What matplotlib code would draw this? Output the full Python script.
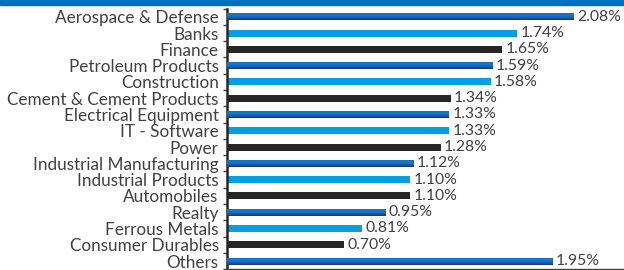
import numpy as np
import matplotlib
matplotlib.use('Agg')
import matplotlib.pyplot as plt
from matplotlib.colors import LinearSegmentedColormap
from matplotlib.patches import Rectangle

sectors = ['Aerospace & Defense', 'Banks', 'Finance', 'Petroleum Products', 'Construction',
           'Cement & Cement Products', 'Electrical Equipment', 'IT - Software', 'Power',
           'Industrial Manufacturing', 'Industrial Products', 'Automobiles', 'Realty',
           'Ferrous Metals', 'Consumer Durables', 'Others']
weights = [2.08, 1.74, 1.65, 1.59, 1.58, 1.34, 1.33, 1.33, 1.28, 1.12, 1.10, 1.10, 0.95, 0.81, 0.70, 1.95]
styles = ['grad', 'light', 'dark'] * 5 + ['grad']

plt.rcParams['font.family'] = ['Lato', 'DejaVu Sans']
txt = '#404040'
light = '#00a0e3'
dark = '#262626'
grad = LinearSegmentedColormap.from_list('g', ['#1d5fae', '#0b80d8', '#1d60b5', '#1f3275'])

fig = plt.figure(figsize=(6.24, 2.70), dpi=100)
fig.patches.append(Rectangle((0, 1 - 5/270), 1, 5/270, transform=fig.transFigure,
                             color='#0070c0', zorder=0))
ax = fig.add_axes([227/624, 0.003, 397/624, 0.965])

y = np.arange(len(sectors))
h = 0.43
for i, (v, s) in enumerate(zip(weights, styles)):
    if s == 'grad':
        bar = ax.barh(i, v, height=h, color='#0b80d8', zorder=2)[0]
        img = ax.imshow(np.linspace(0, 1, 50).reshape(-1, 1), cmap=grad, aspect='auto',
                        extent=(0, v, i + h/2, i - h/2), zorder=3)
        img.set_clip_path(bar)
    else:
        ax.barh(i, v, height=h, color=light if s == 'light' else dark, zorder=2)
    ax.text(v + 0.02, i, '{:.2f}%'.format(v), va='center', ha='left',
            fontsize=11.3, color=txt)

ax.set_xlim(0, 2.38)
ax.set_ylim(len(sectors) - 0.5, -0.5)
ax.set_yticks(y)
ax.set_yticklabels(sectors, fontsize=12.3, color=txt)
ax.set_yticks(np.arange(len(sectors) + 1) - 0.5, minor=True)
ax.tick_params(axis='y', which='major', length=0, pad=6)
ax.tick_params(axis='y', which='minor', length=3, width=1, color='#404040', direction='out')
ax.set_xticks([])
for sp in ['top', 'right']:
    ax.spines[sp].set_visible(False)
ax.spines['left'].set_linewidth(1.8)
ax.spines['left'].set_color('#262626')
ax.spines['bottom'].set_linewidth(1.0)
ax.spines['bottom'].set_color('#404040')

fig.savefig('out.png', dpi=100)
